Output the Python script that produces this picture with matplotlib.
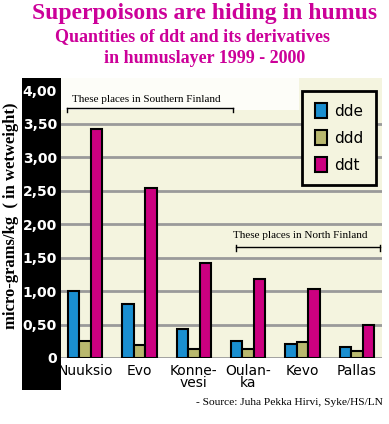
import numpy as np
import matplotlib.pyplot as plt
from matplotlib.patches import Rectangle

# Superpoisons in humus layer 1999-2000

places = ["Nuuksio", "Evo", "Konne-\nvesi", "Oulan-\nka", "Kevo", "Pallas"]
dde = [1.00, 0.81, 0.43, 0.26, 0.21, 0.16]
ddd = [0.26, 0.19, 0.13, 0.13, 0.24, 0.10]
ddt = [3.42, 2.54, 1.42, 1.18, 1.03, 0.49]
yticks = [0, 0.5, 1, 1.5, 2, 2.5, 3, 3.5, 4]
ytick_labels = ["0", "0,50", "1,00", "1,50", "2,00", "2,50", "3,00", "3,50", "4,00"]

magenta = "#cc0099"
serif = "Liberation Serif"
bg = "#f4f4df"

fig = plt.figure(figsize=(3.89, 4.24), dpi=100)
fig.patch.set_facecolor("white")

# black band behind the y tick labels
fig.patches.append(Rectangle((0.0566, 0.080), 0.1003, 0.736, transform=fig.transFigure,
                             facecolor="black", edgecolor="none", zorder=-1))

ax = fig.add_axes([0.157, 0.1557, 0.825, 0.660])
ax.set_facecolor(bg)

x = np.arange(len(places))
w = 0.211
ax.bar(x - w, dde, w, color="#1a8fd0", edgecolor="black", linewidth=1.5, label="dde", zorder=3)
ax.bar(x, ddd, w, color="#b9b86e", edgecolor="black", linewidth=1.5, label="ddd", zorder=3)
ax.bar(x + w, ddt, w, color="#cc0080", edgecolor="black", linewidth=1.5, label="ddt", zorder=3)

ax.set_xlim(-0.44, 5.46)
ax.set_ylim(0, 4.18)
ax.set_yticks(yticks)
ax.set_yticklabels(ytick_labels, color="white", fontweight="bold", fontsize=10,
                   family="DejaVu Sans")
ax.set_xticks(x)
ax.set_xticklabels(places, fontsize=10, linespacing=0.9)
ax.tick_params(length=0)
ax.tick_params(axis="y", pad=3)
ax.tick_params(axis="x", pad=4)
for s in ax.spines.values():
    s.set_visible(False)

ax.grid(axis="y", color="#9a9a9a", linewidth=2, zorder=1)
ax.set_axisbelow(True)
ax.yaxis.get_gridlines()[-1].set_visible(False)

# whiter strip behind the southern label
ax.add_patch(Rectangle((0.0, 0.885), 0.74, 0.115, transform=ax.transAxes,
                       facecolor="#fdfdf8", edgecolor="none", zorder=1))

# brackets
ax.plot([0.019, 0.536], [0.893, 0.893], transform=ax.transAxes, color="black", lw=1, zorder=4)
ax.plot([0.019, 0.019], [0.893, 0.878], transform=ax.transAxes, color="black", lw=1, zorder=4)
ax.plot([0.536, 0.536], [0.893, 0.878], transform=ax.transAxes, color="black", lw=1, zorder=4)
ax.text(0.034, 0.925, "These places in Southern Finland", transform=ax.transAxes,
        family=serif, fontsize=8, va="center", ha="left", zorder=4)

ax.plot([0.545, 0.994], [0.396, 0.396], transform=ax.transAxes, color="black", lw=1, zorder=4)
ax.plot([0.545, 0.545], [0.405, 0.381], transform=ax.transAxes, color="black", lw=1, zorder=4)
ax.plot([0.994, 0.994], [0.405, 0.381], transform=ax.transAxes, color="black", lw=1, zorder=4)
ax.text(0.536, 0.439, "These places in North Finland", transform=ax.transAxes,
        family=serif, fontsize=8, va="center", ha="left", zorder=4)

leg = ax.legend(loc="upper right", bbox_to_anchor=(0.981, 0.954), borderaxespad=0,
                fontsize=11, handlelength=0.8, handleheight=1.1, labelspacing=0.75,
                handletextpad=0.5, borderpad=0.8, fancybox=False, framealpha=1)
leg.get_frame().set_edgecolor("black")
leg.get_frame().set_linewidth(2)
leg.get_frame().set_facecolor(bg)

fig.text(0.525, 0.969, "Superpoisons are hiding in humus", family=serif, fontweight="bold",
         fontsize=17, color=magenta, ha="center", va="center")
fig.text(0.496, 0.915, "Quantities of ddt and its derivatives", family=serif, fontweight="bold",
         fontsize=13, color=magenta, ha="center", va="center")
fig.text(0.526, 0.862, "in humuslayer 1999 - 2000", family=serif, fontweight="bold",
         fontsize=13, color=magenta, ha="center", va="center")

fig.text(0.028, 0.49, "micro-grams/kg  ( in wetweight)", family=serif, fontweight="bold",
         fontsize=12, rotation=90, ha="center", va="center")

fig.text(0.985, 0.05, "- Source: Juha Pekka Hirvi, Syke/HS/LN", family=serif,
         fontsize=8.2, ha="right", va="center")

fig.savefig("out.png", dpi=100)
